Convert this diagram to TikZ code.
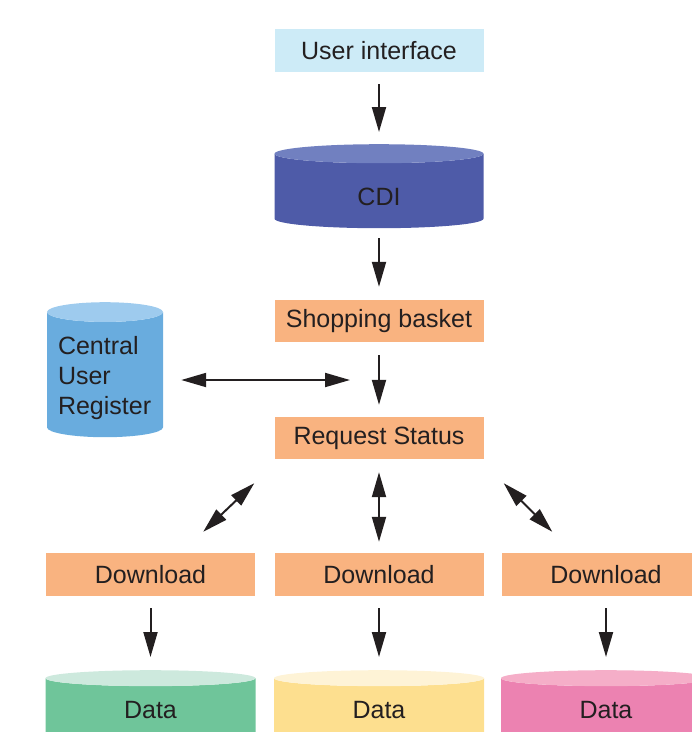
\documentclass[tikz,border=0pt]{standalone}
\usepackage{fontspec}
\setmainfont{Liberation Sans}
\usetikzlibrary{arrows.meta,shapes.geometric}

\definecolor{ink}{HTML}{231F20}
\definecolor{uifill}{HTML}{CDEBF7}
\definecolor{orangebox}{HTML}{F9B380}
\definecolor{cdibody}{HTML}{4E5BA8}
\definecolor{cditop}{HTML}{7180C0}
\definecolor{curbody}{HTML}{69ACDE}
\definecolor{curtop}{HTML}{9ECBEE}
\definecolor{greenbody}{HTML}{6FC59A}
\definecolor{greentop}{HTML}{CDE9DD}
\definecolor{yellowbody}{HTML}{FDDF8F}
\definecolor{yellowtop}{HTML}{FEF3D6}
\definecolor{pinkbody}{HTML}{EC82B1}
\definecolor{pinktop}{HTML}{F5AEC8}

\tikzset{
  label font/.style={text=ink, font=\fontsize{25}{30}\selectfont},
  box/.style={fill=#1, minimum width=209pt, minimum height=42pt, inner sep=0pt, label font},
  box/.default=orangebox,
  db/.style 2 args={cylinder, shape border rotate=90, cylinder uses custom fill,
    cylinder body fill=#1, cylinder end fill=#2, inner sep=0pt, align=center, anchor=north, label font},
  arr/.style={draw=ink, line width=2pt, -{Triangle[length=25pt,width=14pt]}},
  biarr/.style={draw=ink, line width=2pt, {Triangle[length=25pt,width=14pt]}-{Triangle[length=25pt,width=14pt]}}
}

\begin{document}
\begin{tikzpicture}[x=1pt,y=-1pt]
\useasboundingbox (0,0) rectangle (692,732);

\node[box=uifill, minimum height=43pt] (ui) at (379,50.5) {User interface};
\node[db={cdibody}{cditop}, text width=209pt, minimum height=84pt, aspect=0.091] (cdi) at (379,144) {\raisebox{-6pt}[\height][\depth]{CDI}};
\node[box] (basket) at (379,321) {Shopping basket};
\node[box] (status) at (379,438) {Request Status};
\node[db={curbody}{curtop}, text width=94pt, inner xsep=11pt, minimum height=135pt, aspect=0.17, align=left] (cur) at (105,302) {Central\\User\\Register};

\node[box, minimum height=43pt] (dl1) at (150.5,574.5) {Download};
\node[box, minimum height=43pt] (dl2) at (379,574.5) {Download};
\node[box, minimum height=43pt] (dl3) at (606,574.5) {Download};

\node[db={greenbody}{greentop}, text width=210pt, minimum height=72pt, aspect=0.076] (data1) at (150.5,670) {Data};
\node[db={yellowbody}{yellowtop}, text width=210pt, minimum height=72pt, aspect=0.076] (data2) at (379,670) {Data};
\node[db={pinkbody}{pinktop}, text width=210pt, minimum height=72pt, aspect=0.076] (data3) at (606,670) {Data};

\draw[arr, shorten <=12pt, shorten >=12pt] (ui) -- (cdi);
\draw[arr, shorten <=10pt, shorten >=13pt] (cdi) -- (basket);
\draw[arr, shorten <=13pt, shorten >=12pt] (basket) -- (status);

\coordinate (join) at (379,380);
\draw[biarr, shorten <=18pt, shorten >=29pt] (cur.east |- join) -- (join);

\draw[biarr] ([shift={(-20,24)}]status.south west) -- ([shift={(-52,-21)}]dl1.north east);
\draw[biarr, shorten <=13pt, shorten >=11pt] (status) -- (dl2);
\draw[biarr] ([shift={(20,24)}]status.south east) -- ([shift={(51,-21)}]dl3.north west);

\draw[arr, shorten <=12pt, shorten >=13pt] (dl1) -- (data1);
\draw[arr, shorten <=12pt, shorten >=13pt] (dl2) -- (data2);
\draw[arr, shorten <=12pt, shorten >=13pt] (dl3) -- (data3);

\end{tikzpicture}
\end{document}
